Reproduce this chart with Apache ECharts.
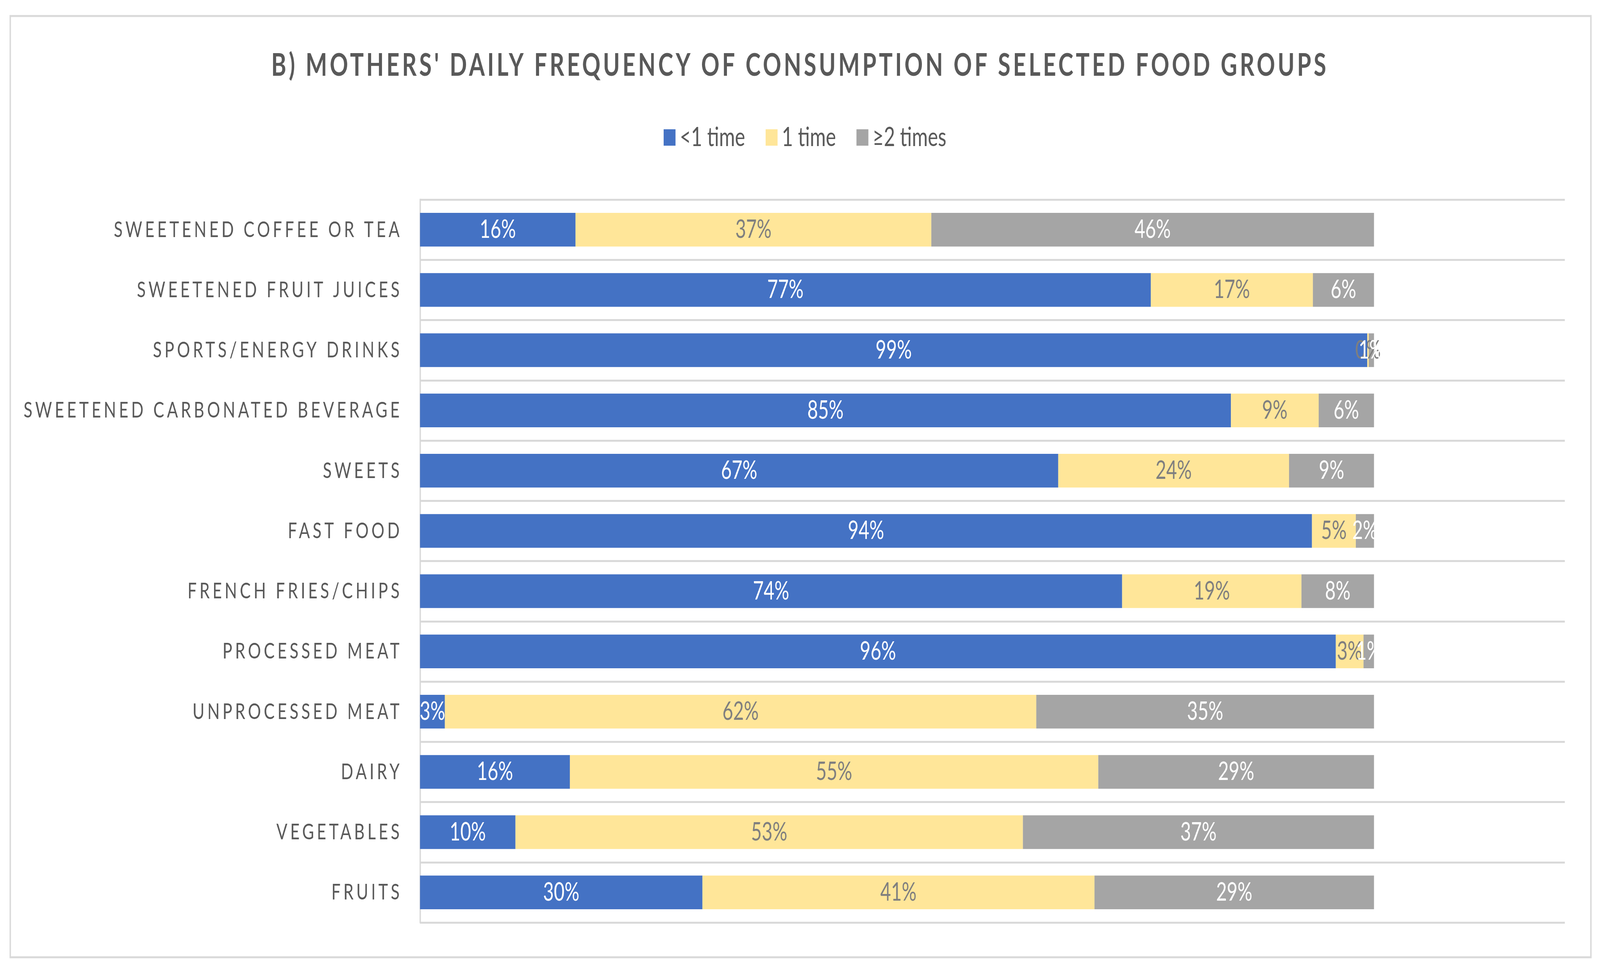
<!DOCTYPE html>
<html>
<head>
<meta charset="utf-8">
<style>
  html, body { margin: 0; padding: 0; background: #ffffff; overflow: hidden; }
  #chart { width: 5630px; height: 2481px; transform-origin: 0 0; }
</style>
<script src="https://cdn.jsdelivr.net/npm/echarts@6/dist/echarts.min.js"></script>
</head>
<body>
<div id="chart"></div>
<script>
// Letter spacing support for spaced (Excel-style) text: font family list carrying an "lsN" marker
(function () {
  var proto = CanvasRenderingContext2D.prototype;
  var d = Object.getOwnPropertyDescriptor(proto, 'font');
  if (!d || !('letterSpacing' in proto)) return;
  Object.defineProperty(proto, 'font', {
    configurable: true,
    get: function () { return d.get.call(this); },
    set: function (v) {
      d.set.call(this, v);
      var m = /ls(\d+)/.exec(v);
      this.letterSpacing = m ? m[1] + 'px' : '0px';
    }
  });
})();

const titleText = "B) MOTHERS' DAILY FREQUENCY OF CONSUMPTION OF SELECTED FOOD GROUPS";
const seriesNames = ['<1 time', '1 time', '≥2 times'];
const categories = [
  'SWEETENED COFFEE OR TEA',
  'SWEETENED FRUIT JUICES',
  'SPORTS/ENERGY DRINKS',
  'SWEETENED CARBONATED BEVERAGE',
  'SWEETS',
  'FAST FOOD',
  'FRENCH FRIES/CHIPS',
  'PROCESSED MEAT',
  'UNPROCESSED MEAT',
  'DAIRY',
  'VEGETABLES',
  'FRUITS'
];
const lessThanOnce = [16.3, 76.6, 99.3, 85.0, 66.9, 93.5, 73.6, 96.0, 2.6, 15.7, 10.0, 29.6];
const once        = [37.3, 17.0, 0.15, 9.2, 24.2, 4.6, 18.8, 2.9, 62.0, 55.4, 53.2, 41.1];
const twicePlus   = [46.4, 6.4, 0.55, 5.8, 8.9, 1.9, 7.6, 1.1, 35.4, 28.9, 36.8, 29.3];

const colors = ['#4472C4', '#FFE699', '#A5A5A5'];
const labelColors = ['#FFFFFF', '#7F7F7F', '#FFFFFF'];
const seriesData = [lessThanOnce, once, twicePlus];

// The design is 5630 x 2481; if the window is smaller, fit it to the window.
const W = 5630, H = 2481;
const el = document.getElementById('chart');
const sx = Math.min(1, (window.innerWidth || W) / W);
const sy = Math.min(1, (window.innerHeight || H) / H);
if (sx < 1 || sy < 1) {
  el.style.transform = 'scale(' + sx + ',' + sy + ')';
}

const chart = echarts.init(el, null, { renderer: 'canvas', width: W, height: H });

const option = {
  backgroundColor: '#FFFFFF',
  animation: false,
  color: colors,
  title: {
    text: titleText,
    left: 'center',
    top: 118,
    textStyle: {
      fontFamily: 'Lato, ls9',
      fontSize: 80,
      fontWeight: 'bold',
      color: '#595959',
      lineHeight: 90
    }
  },
  legend: {
    top: 313,
    left: 2330,
    itemWidth: 42,
    itemHeight: 42,
    itemGap: 72,
    icon: 'rect',
    data: seriesNames,
    textStyle: {
      fontFamily: 'Lato',
      fontSize: 68,
      color: '#595959',
      padding: [0, 0, 0, 10]
    }
  },
  grid: {
    left: 1478,
    right: 124,
    top: 511,
    bottom: 119,
    containLabel: false
  },
  xAxis: {
    type: 'value',
    min: 0,
    max: 120,
    show: false,
    splitLine: { show: false }
  },
  yAxis: {
    type: 'category',
    inverse: true,
    data: categories,
    axisTick: { show: false },
    axisLine: { show: true, lineStyle: { color: '#D9D9D9', width: 5 } },
    splitLine: { show: true, lineStyle: { color: '#D9D9D9', width: 5 } },
    axisLabel: {
      fontFamily: 'Lato, ls10',
      fontSize: 57,
      color: '#595959',
      margin: 62
    }
  },
  graphic: [{
    type: 'rect',
    z: -1,
    shape: { x: 36, y: 41, width: 5562, height: 2410 },
    style: { fill: 'none', stroke: '#D9D9D9', lineWidth: 5 },
    silent: true
  }],
  series: seriesNames.map(function (name, i) {
    return {
      name: name,
      type: 'bar',
      stack: 'total',
      barCategoryGap: '44%',
      data: seriesData[i],
      itemStyle: { color: colors[i] },
      label: {
        show: true,
        position: 'inside',
        fontFamily: 'Lato',
        fontSize: 65,
        color: labelColors[i],
        formatter: function (p) { return Math.round(p.value) + '%'; }
      }
    };
  })
};

chart.setOption(option);
</script>
</body>
</html>
